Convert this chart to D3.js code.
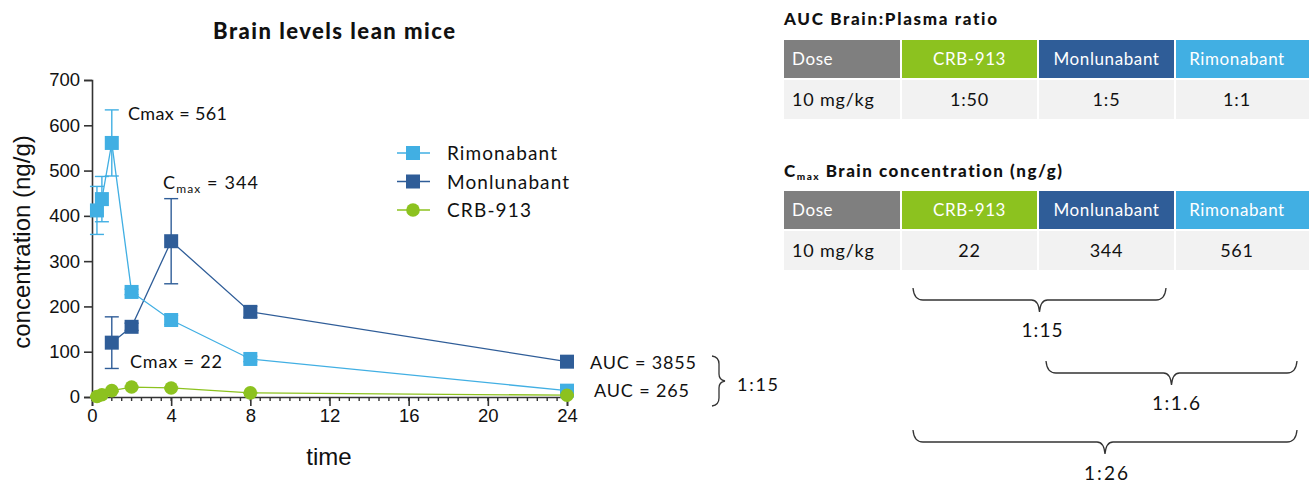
<!DOCTYPE html>
<html>
<head>
<meta charset="utf-8">
<script src="https://cdn.jsdelivr.net/npm/d3@7"></script>
<style>
  html, body { margin: 0; padding: 0; background: #fff; }
  svg { display: block; }
  .geo { font-family: Lato, "Noto Sans", sans-serif; font-variant-ligatures: none; font-feature-settings: "liga" 0, "clig" 0; }
  .ax { font-family: "Liberation Sans", Arial, sans-serif; }
</style>
</head>
<body>
<svg id="chart" width="1309" height="483"></svg>
<script>
// ---- Brain concentration time courses (ng/g) ----
const rimoTimes = [0.25, 0.5, 1, 2, 4, 8, 24];
const rimoMean  = [412, 437, 561, 232, 170, 84, 14];
const rimoSD    = [53, 50, 73, 6, 10, 6, 3];

const monTimes  = [1, 2, 4, 8, 24];
const monMean   = [120, 155, 344, 188, 78];
const monSD     = [57, 8, 94, 12, 5];

const crbTimes  = [0.25, 0.5, 1, 2, 4, 8, 24];
const crbMean   = [1, 5, 14, 22, 20, 9, 4];
const crbSD     = [1, 1, 2, 2, 2, 1, 1];

const seriesNames = ["Rimonabant", "Monlunabant", "CRB-913"];
const yTicks = [0, 100, 200, 300, 400, 500, 600, 700];
const xTicks = [0, 4, 8, 12, 16, 20, 24];

// ---- Summary tables ----
const tableHeader = ["Dose", "CRB-913", "Monlunabant", "Rimonabant"];
const aucRatioRow = ["10 mg/kg", "1:50", "1:5", "1:1"];
const cmaxRow     = ["10 mg/kg", "22", "344", "561"];

const colors = {
  "Rimonabant": "#41afe3",
  "Monlunabant": "#2f5d98",
  "CRB-913": "#8cc21f",
  "Dose": "#7f7f7f"
};

const svg = d3.select("#chart");

const x = d3.scaleLinear().domain([0, 24]).range([92, 567]);
const y = d3.scaleLinear().domain([0, 700]).range([397, 80]);

// text helper: geometric-style label stretched to a given width
function label(xp, yp, str, size, width, opts = {}) {
  const t = svg.append("text").attr("class", "geo")
    .attr("x", xp).attr("y", yp).attr("font-size", size)
    .attr("fill", opts.fill || "#111")
    .attr("text-anchor", opts.anchor || "start");
  if (opts.bold) t.attr("font-weight", 900);
  if (width) t.attr("textLength", width).attr("lengthAdjust", "spacing");
  if (str !== null) t.text(str);
  return t;
}

// Title
label(334, 39, "Brain levels lean mice", 22, 242, { anchor: "middle", bold: true });

// Y axis
const yAxis = svg.append("g").attr("class", "ax")
  .attr("transform", "translate(92,0)")
  .call(d3.axisLeft(y).tickValues(yTicks).tickSize(8).tickPadding(4));
yAxis.select(".domain").attr("stroke", "#333").attr("stroke-width", 1.6);
yAxis.selectAll(".tick line").attr("stroke", "#333").attr("stroke-width", 1.6);
yAxis.selectAll("text").attr("font-size", 18.5).attr("fill", "#111");

// X axis: major ticks + half-hour minor ticks
const minor = d3.range(0, 24.01, 0.5);
svg.append("g").selectAll("line").data(minor).join("line")
  .attr("x1", d => x(d)).attr("x2", d => x(d))
  .attr("y1", 397).attr("y2", 401)
  .attr("stroke", "#333").attr("stroke-width", 1.4);
const xAxis = svg.append("g").attr("class", "ax")
  .attr("transform", "translate(0,397)")
  .call(d3.axisBottom(x).tickValues(xTicks).tickSize(9).tickPadding(3));
xAxis.select(".domain").attr("stroke", "#333").attr("stroke-width", 1.6);
xAxis.selectAll(".tick line").attr("stroke", "#333").attr("stroke-width", 1.6);
xAxis.selectAll("text").attr("font-size", 18.5).attr("fill", "#111");

// Axis titles
svg.append("text").attr("class", "ax")
  .attr("transform", "translate(30,242) rotate(-90)")
  .attr("text-anchor", "middle").attr("font-size", 24).attr("fill", "#111")
  .text("concentration (ng/g)");
svg.append("text").attr("class", "ax")
  .attr("x", 329).attr("y", 465).attr("text-anchor", "middle")
  .attr("font-size", 24).attr("fill", "#111")
  .text("time");

const series = [
  { name: "Monlunabant", t: monTimes, m: monMean, sd: monSD, shape: "square" },
  { name: "Rimonabant", t: rimoTimes, m: rimoMean, sd: rimoSD, shape: "square" },
  { name: "CRB-913", t: crbTimes, m: crbMean, sd: crbSD, shape: "circle" }
];

const line = d3.line().x(d => x(d.t)).y(d => y(d.m));

series.forEach(s => {
  const pts = s.t.map((t, i) => ({ t, m: s.m[i], sd: s.sd[i] }));
  const g = svg.append("g");
  const c = colors[s.name];
  // error bars
  const eb = g.selectAll(".eb").data(pts).join("g");
  eb.append("line")
    .attr("x1", d => x(d.t)).attr("x2", d => x(d.t))
    .attr("y1", d => y(d.m + d.sd)).attr("y2", d => y(Math.max(0, d.m - d.sd)))
    .attr("stroke", c).attr("stroke-width", 1.4);
  [1, -1].forEach(sign => {
    eb.append("line")
      .attr("x1", d => x(d.t) - 7).attr("x2", d => x(d.t) + 7)
      .attr("y1", d => y(Math.max(0, d.m + sign * d.sd)))
      .attr("y2", d => y(Math.max(0, d.m + sign * d.sd)))
      .attr("stroke", c).attr("stroke-width", 1.4);
  });
  g.append("path").datum(pts).attr("d", line)
    .attr("fill", "none").attr("stroke", c).attr("stroke-width", 1.3);
  if (s.shape === "square") {
    g.selectAll("rect").data(pts).join("rect")
      .attr("x", d => x(d.t) - 7).attr("y", d => y(d.m) - 7)
      .attr("width", 14).attr("height", 14).attr("fill", c);
  } else {
    g.selectAll("circle").data(pts).join("circle")
      .attr("cx", d => x(d.t)).attr("cy", d => y(d.m))
      .attr("r", 6.8).attr("fill", c);
  }
});

// Legend
const legendWidths = { "Rimonabant": 110, "Monlunabant": 122, "CRB-913": 84 };
seriesNames.forEach((name, i) => {
  const ly = 153 + i * 28.5;
  const c = colors[name];
  svg.append("line").attr("x1", 397).attr("x2", 430).attr("y1", ly).attr("y2", ly)
    .attr("stroke", c).attr("stroke-width", 1.3);
  if (name === "CRB-913") {
    svg.append("circle").attr("cx", 413).attr("cy", ly).attr("r", 6.8).attr("fill", c);
  } else {
    svg.append("rect").attr("x", 406).attr("y", ly - 7).attr("width", 14).attr("height", 14).attr("fill", c);
  }
  label(447, ly + 7, name, 19, legendWidths[name]);
});

// Annotations inside the plot
function cmaxLabel(xp, yp, value, sub, width) {
  const t = label(xp, yp, null, 18, width);
  t.append("tspan").text("C");
  if (sub) {
    t.append("tspan").attr("font-size", 12).attr("dy", 4).text("max");
    t.append("tspan").attr("dy", -4).text(" = " + value);
  } else {
    t.append("tspan").text("max = " + value);
  }
}
cmaxLabel(128, 120, d3.max(rimoMean), false, 99);
cmaxLabel(163, 189, d3.max(monMean), true, 95);
cmaxLabel(130, 368, d3.max(crbMean), false, 92);

label(590, 369, "AUC = 3855", 18, 106);
label(594, 397, "AUC = 265", 18, 95);

// Curly brace (vertical, opening left) for the AUC ratio
svg.append("path")
  .attr("d", "M712,356 Q719,357 719,364 L719,374 Q719,380 725,381 Q719,382 719,388 L719,398 Q719,405 712,406")
  .attr("fill", "none").attr("stroke", "#333").attr("stroke-width", 1.3);
label(737, 391, "1:15", 18, 41);

// ---- Tables ----
const colX = [784, 902, 1039, 1176, 1309];
const textX = [792, 969.5, 1106.5, 1237];
function drawTable(top, row) {
  tableHeader.forEach((h, i) => {
    const x0 = colX[i], w = colX[i + 1] - colX[i] - (i < 3 ? 2 : 0);
    const anchor = i === 0 ? "start" : "middle";
    svg.append("rect").attr("x", x0).attr("y", top).attr("width", w).attr("height", 38)
      .attr("fill", colors[h]);
    label(textX[i], top + 25, h, 17, null, { anchor, fill: "#fff" })
      .attr("letter-spacing", 0.6);
    svg.append("rect").attr("x", x0).attr("y", top + 40).attr("width", w).attr("height", 39)
      .attr("fill", "#f2f2f2");
    label(textX[i], top + 66, row[i], 18, null, { anchor })
      .attr("letter-spacing", 0.8);
  });
}

label(784, 25, "AUC Brain:Plasma ratio", 17, 213, { bold: true });
drawTable(40, aucRatioRow);

const t2 = label(784, 177, null, 17, 278, { bold: true });
t2.append("tspan").text("C");
t2.append("tspan").attr("font-size", 10).attr("dy", 3).text("max");
t2.append("tspan").attr("dy", -3).text(" Brain concentration (ng/g)");
drawTable(191, cmaxRow);

// Horizontal braces comparing Cmax values
function hBrace(x1, x2, top, text, lx, ly, lw) {
  const mid = (x1 + x2) / 2, h = top + 12, tip = top + 24;
  svg.append("path")
    .attr("d", `M${x1},${top} Q${x1 + 1},${h} ${x1 + 10},${h} L${mid - 8},${h} Q${mid - 1},${h} ${mid},${tip} Q${mid + 1},${h} ${mid + 8},${h} L${x2 - 10},${h} Q${x2 - 1},${h} ${x2},${top}`)
    .attr("fill", "none").attr("stroke", "#333").attr("stroke-width", 1.3);
  label(lx, ly, text, 19, lw, { anchor: "middle" });
}
hBrace(913, 1166, 288, "1:15", 1042, 337, 41);
hBrace(1046, 1297, 361, "1:1.6", 1176, 410, 48);
hBrace(913, 1297, 430, "1:26", 1106, 480, 44);
</script>
</body>
</html>
